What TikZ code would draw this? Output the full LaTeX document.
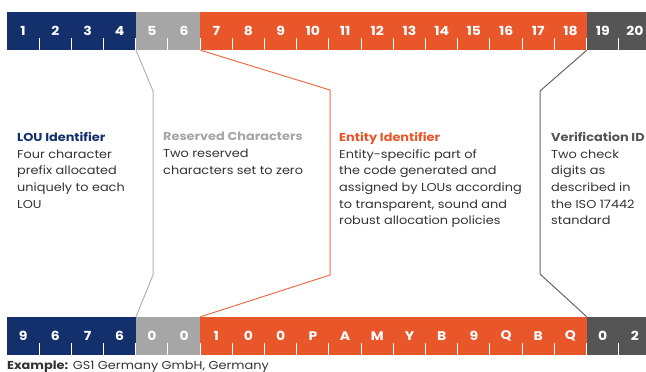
\documentclass[tikz,border=0pt]{standalone}
\usepackage{fontspec}
\setmainfont{Poppins}[FakeStretch=1.12]
\definecolor{loublue}{HTML}{13306C}
\definecolor{resgray}{HTML}{A6A6A6}
\definecolor{entorange}{HTML}{E8562A}
\definecolor{verdark}{HTML}{555555}
\definecolor{bodytext}{HTML}{333333}
\begin{document}
\begin{tikzpicture}[x=1pt,y=-1pt, line join=round,
	cell/.style={minimum width=32.2pt, minimum height=38pt, inner sep=0pt, text=white, font=\bfseries\fontsize{12.5}{12.5}\selectfont},
	desc/.style={anchor=north west, align=left, inner sep=0pt, text=bodytext, font=\fontsize{11.5}{16.7}\selectfont},
	link/.style={line width=1pt}]
	\useasboundingbox (0,0) rectangle (646,372);
	\def\cw{32.2}
	\def\ytop{31} \def\ybot{336}
	% code cells, top: positions, bottom: example
	\foreach \i/\c/\b in {1/loublue/9, 2/loublue/6, 3/loublue/7, 4/loublue/6,
		5/resgray/0, 6/resgray/0,
		7/entorange/1, 8/entorange/0, 9/entorange/0, 10/entorange/P, 11/entorange/A, 12/entorange/M,
		13/entorange/Y, 14/entorange/B, 15/entorange/9, 16/entorange/Q, 17/entorange/B, 18/entorange/Q,
		19/verdark/0, 20/verdark/2} {
		\node[cell, fill=\c] (t\i) at ({7+(\i-0.5)*\cw},\ytop) {\i};
		\node[cell, fill=\c] (b\i) at ({7+(\i-0.5)*\cw},\ybot) {\b};
	}
	\foreach \i in {2,...,20} {
		\draw[white, line width=1pt] (t\i.south west) -- ++(0,-12);
		\draw[white, line width=1pt] (b\i.south west) -- ++(0,-12);
	}
	% connectors
	\coordinate (r1) at (153,91); \coordinate (r2) at (153,275);
	\coordinate (e1) at (330,90); \coordinate (e2) at (330,275);
	\coordinate (v1) at (540,91); \coordinate (v2) at (540,274);
	\draw[link, resgray!85] (t4.south east) -- (r1) -- (r2) -- (b4.north east);
	\draw[link, entorange!85] (t6.south east) -- (e1) -- (e2) -- (b6.north east);
	\draw[link, verdark!90] (t18.south east) -- (v1) -- (v2) -- (b18.north east);
	% descriptions
	\node[desc] (lou) at (17,132) {\textcolor{loublue}{\bfseries LOU Identifier}\\Four character\\prefix allocated\\uniquely to each\\LOU};
	\node[desc] (res) at (163,132) {\textcolor{resgray}{\bfseries Reserved Characters}\\Two reserved\\characters set to zero};
	\node[desc] (ent) at (339,132) {\textcolor{entorange}{\bfseries Entity Identifier}\\Entity-specific part of\\the code generated and\\assigned by LOUs according\\to transparent, sound and\\robust allocation policies};
	\node[desc] (ver) at (551,132) {\textcolor{verdark}{\bfseries Verification ID}\\Two check\\digits as\\described in\\the ISO 17442\\standard};
	\node[anchor=base west, inner sep=0pt, text=bodytext, font=\fontsize{11.5}{13}\selectfont] (ex) at (7,369) {\textbf{Example:} GS1 Germany GmbH, Germany};
\end{tikzpicture}
\end{document}
